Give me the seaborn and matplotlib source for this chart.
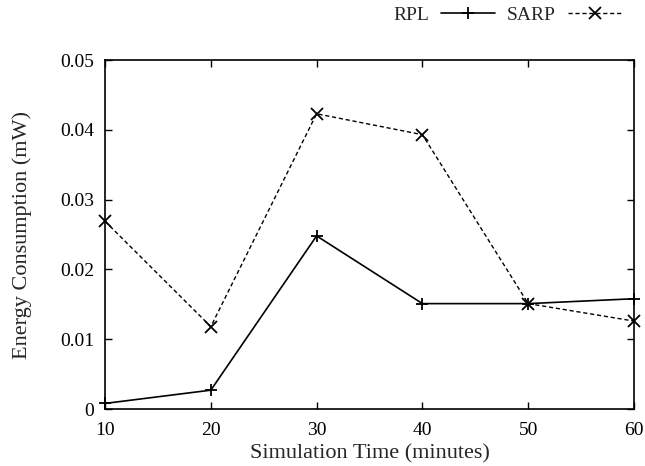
import matplotlib
matplotlib.use("Agg")
import matplotlib.pyplot as plt
import seaborn as sns
import pandas as pd

times = [10, 20, 30, 40, 50, 60]
rpl = [0.0008, 0.0027, 0.0248, 0.0151, 0.0151, 0.0158]
sarp = [0.0269, 0.0118, 0.0423, 0.0393, 0.0151, 0.0126]
yticks = [0, 0.01, 0.02, 0.03, 0.04, 0.05]
ytick_labels = ["0", "0.01", "0.02", "0.03", "0.04", "0.05"]

sns.set_theme(style="ticks")
plt.rcParams['font.family'] = ['Liberation Serif', 'DejaVu Serif']

df_rpl = pd.DataFrame({"t": times, "v": rpl})
df_sarp = pd.DataFrame({"t": times, "v": sarp})

fig = plt.figure(figsize=(6.45, 4.66), dpi=100)
ax = fig.add_axes([0.1628, 0.1223, 0.8202, 0.7489])

sns.lineplot(data=df_rpl, x="t", y="v", ax=ax, color="black", linewidth=1.2,
             marker="+", markersize=8, markeredgewidth=1.3, markeredgecolor="black",
             label="RPL", clip_on=False)
sns.lineplot(data=df_sarp, x="t", y="v", ax=ax, color="black", linewidth=1.0,
             linestyle=(0, (3, 2)), marker="x", markersize=8.5, markeredgewidth=1.3,
             markeredgecolor="black", label="SARP", clip_on=False)

ax.set_xlim(10, 60)
ax.set_ylim(0, 0.05)
ax.set_xticks(times)
ax.set_xticklabels([str(t) for t in times])
ax.set_yticks(yticks)
ax.set_yticklabels(ytick_labels)
ax.tick_params(direction="in", top=True, right=True, length=5, width=1,
               labelsize=14, colors="black")
ax.tick_params(axis="x", pad=9)
ax.tick_params(axis="y", pad=8)
for s in ax.spines.values():
    s.set_linewidth(1.2)
    s.set_color("black")

ax.set_xlabel("Simulation Time (minutes)", fontsize=16, labelpad=4)
ax.set_ylabel("Energy Consumption (mW)", fontsize=16, labelpad=20)

leg = ax.legend(loc="center right", bbox_to_anchor=(622 / 645, 1 - 15 / 466),
                bbox_transform=fig.transFigure, ncol=2, borderpad=0, borderaxespad=0,
                frameon=False, markerfirst=False, handlelength=2.8,
                columnspacing=0.6, handletextpad=0.6, fontsize=14)

fig.savefig("out.png", dpi=100)
